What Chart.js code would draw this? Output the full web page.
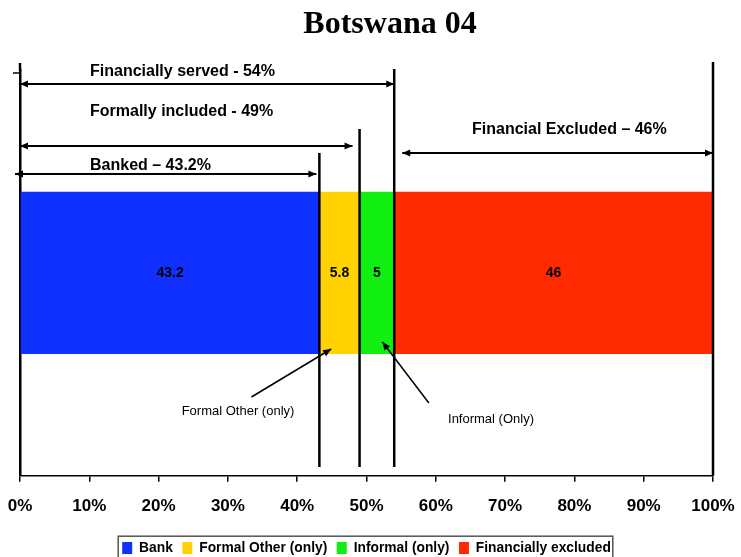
<!DOCTYPE html>
<html><head><meta charset="utf-8">
<script src="https://cdn.jsdelivr.net/npm/chart.js@4"></script>
<style>html,body{margin:0;padding:0;background:#fff}#wrap{width:741px;height:557px;position:relative}</style>
</head><body><div id="wrap"><canvas id="c" width="741" height="557"></canvas></div>
<script>
const categories = ['Botswana 04'];
const seriesLabels = ['Bank', 'Formal Other (only)', 'Informal (only)', 'Financially excluded'];
const bankValues = [43.2];
const formalOtherValues = [5.8];
const informalValues = [5];
const excludedValues = [46];
const xTickValues = [0, 10, 20, 30, 40, 50, 60, 70, 80, 90, 100];
const cumulativeMarks = [43.2, 49, 54, 100];
const spanLabels = ['Financially served - 54%', 'Formally included - 49%', 'Banked \u2013 43.2%', 'Financial Excluded \u2013 46%'];
const spanFrom = [0, 0, 0, 54];
const spanTo = [54, 49, 43.2, 100];
const calloutLabels = ['Formal Other (only)', 'Informal (Only)'];
const titleText = 'Botswana 04';

const colors = ['#1030FF', '#FFD200', '#11EE11', '#FF2A00'];
const SANS = '"Liberation Sans", Arial, sans-serif';

function arrowHead(ctx, x1, y1, x2, y2, len, wid) {
  const a = Math.atan2(y2 - y1, x2 - x1);
  ctx.beginPath();
  ctx.moveTo(x2, y2);
  ctx.lineTo(x2 - len * Math.cos(a) + wid * Math.sin(a), y2 - len * Math.sin(a) - wid * Math.cos(a));
  ctx.lineTo(x2 - len * Math.cos(a) - wid * Math.sin(a), y2 - len * Math.sin(a) + wid * Math.cos(a));
  ctx.closePath();
  ctx.fill();
}
function arrowLine(ctx, x1, y1, x2, y2, startHead, endHead, lw) {
  ctx.lineWidth = lw;
  ctx.beginPath(); ctx.moveTo(x1, y1); ctx.lineTo(x2, y2); ctx.stroke();
  if (endHead) arrowHead(ctx, x1, y1, x2, y2, 8, 3.5);
  if (startHead) arrowHead(ctx, x2, y2, x1, y1, 8, 3.5);
}

const annotations = {
  id: 'annotations',
  afterDatasetsDraw(chart) {
    const ctx = chart.ctx;
    ctx.save();
    ctx.fillStyle = '#000';
    ctx.font = 'bold 14px ' + SANS;
    ctx.textAlign = 'center';
    ctx.textBaseline = 'middle';
    chart.data.datasets.forEach((ds, i) => {
      const el = chart.getDatasetMeta(i).data[0];
      ctx.fillText(String(ds.data[0]), (el.x + el.base) / 2, el.y);
    });
    ctx.restore();
  },
  afterDraw(chart) {
    const ctx = chart.ctx;
    const xs = chart.scales.x;
    const ca = chart.chartArea;
    ctx.save();
    ctx.fillStyle = '#000';
    ctx.strokeStyle = '#000';
    // title
    ctx.font = 'bold 32px "Liberation Serif", "Times New Roman", serif';
    ctx.textAlign = 'center';
    ctx.textBaseline = 'middle';
    ctx.fillText(titleText, 390, 25);
    // small top tick on y axis
    ctx.lineWidth = 1.5;
    ctx.beginPath(); ctx.moveTo(ca.left - 7, 73); ctx.lineTo(ca.left, 73); ctx.stroke();
    ctx.lineWidth = 2.5;
    ctx.beginPath(); ctx.moveTo(ca.left, 63); ctx.lineTo(ca.left, ca.top + 1); ctx.stroke();
    // vertical cumulative marks
    const tops = [153, 129, 69, 62];
    const bottoms = [467, 467, 467, ca.bottom];
    cumulativeMarks.forEach((v, i) => {
      const x = xs.getPixelForValue(v);
      ctx.lineWidth = 2.5;
      ctx.beginPath(); ctx.moveTo(x, tops[i]); ctx.lineTo(x, bottoms[i]); ctx.stroke();
    });
    // spans
    const spanY = [84, 146, 174, 153];
    const textY = [72, 112, 166, 130];
    const textX = [90, 90, 90, 472];
    const startOff = [0, 0, -5, 8];
    const endOff = [0, -7, -3, 0];
    ctx.font = 'bold 16px ' + SANS;
    ctx.textAlign = 'left';
    ctx.textBaseline = 'middle';
    spanLabels.forEach((t, i) => {
      ctx.fillText(t, textX[i], textY[i]);
      const x1 = xs.getPixelForValue(spanFrom[i]) + startOff[i];
      const x2 = xs.getPixelForValue(spanTo[i]) + endOff[i];
      arrowLine(ctx, x1, spanY[i], x2, spanY[i], true, true, 2);
    });
    // callouts
    ctx.font = '13px ' + SANS;
    ctx.textAlign = 'center';
    arrowLine(ctx, xs.getPixelForValue(33.4), 397, xs.getPixelForValue(44.9), 349, false, true, 1.5);
    ctx.fillText(calloutLabels[0], 238, 411);
    arrowLine(ctx, xs.getPixelForValue(59.0), 403, xs.getPixelForValue(52.3), 342, false, true, 1.5);
    ctx.fillText(calloutLabels[1], 491, 419);
    // legend border
    const lg = chart.legend;
    if (lg && lg.legendHitBoxes && lg.legendHitBoxes.length) {
      const hb = lg.legendHitBoxes;
      const l = Math.min(...hb.map(h => h.left)) - 4;
      const r = Math.max(...hb.map(h => h.left + h.width)) + 2;
      const t = Math.min(...hb.map(h => h.top)) - 5;
      const b = Math.max(...hb.map(h => h.top + h.height)) + 5;
      ctx.lineWidth = 1.5;
      ctx.strokeStyle = '#555';
      ctx.strokeRect(l, t, r - l, b - t);
    }
    ctx.restore();
  }
};

const datasetValues = [bankValues, formalOtherValues, informalValues, excludedValues];
new Chart(document.getElementById('c'), {
  type: 'bar',
  data: {
    labels: categories,
    datasets: seriesLabels.map((name, i) => ({
      label: name,
      data: datasetValues[i],
      backgroundColor: colors[i],
      borderWidth: 0,
      barPercentage: 0.4,
      categoryPercentage: 1
    }))
  },
  options: {
    indexAxis: 'y',
    responsive: false,
    animation: false,
    devicePixelRatio: 1,
    layout: { padding: { left: 20, right: 28, top: 70, bottom: -8 } },
    scales: {
      x: {
        stacked: true, min: 0, max: 100,
        afterBuildTicks: (axis) => { axis.ticks = xTickValues.map(v => ({ value: v })); },
        ticks: {
          callback: v => v + '%',
          color: '#000',
          font: { family: SANS, size: 17, weight: 'bold', lineHeight: 2.235 },
          padding: 6,
          maxRotation: 0, autoSkip: false
        },
        grid: { display: true, drawOnChartArea: false, tickLength: 6, color: '#000', lineWidth: 1.5 },
        border: { display: true, color: '#000', width: 1.5 }
      },
      y: {
        stacked: true,
        ticks: { display: false },
        grid: { display: false, drawTicks: false },
        border: { display: true, color: '#000', width: 2.5 }
      }
    },
    plugins: {
      title: { display: false },
      tooltip: { enabled: false },
      legend: {
        position: 'bottom',
        labels: {
          boxWidth: 10, boxHeight: 12, padding: 9.5,
          color: '#000',
          font: { family: SANS, size: 13.8, weight: 'bold' }
        }
      }
    }
  },
  plugins: [annotations]
});
</script>
</body></html>
